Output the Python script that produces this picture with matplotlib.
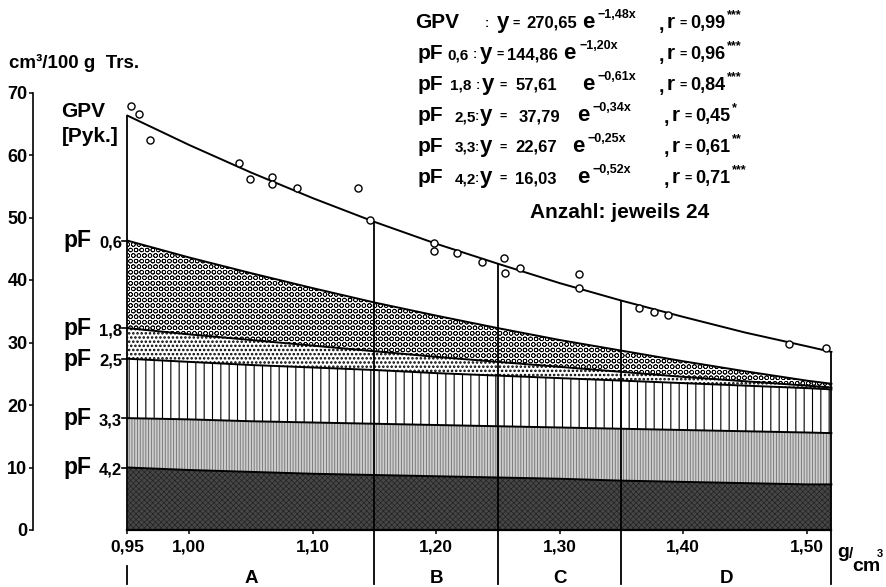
import numpy as np
import matplotlib.pyplot as plt

plt.rcParams['font.family'] = ['Liberation Sans', 'DejaVu Sans']
plt.rcParams['font.weight'] = 'bold'

dichte = [0.95, 1.00, 1.05, 1.10, 1.15, 1.20, 1.25, 1.30, 1.35, 1.40, 1.45, 1.50, 1.52]
gpv = [66.3, 61.6, 57.2, 53.1, 49.3, 45.8, 42.6, 39.5, 36.7, 34.1, 31.6, 29.4, 28.5]
pf06 = [46.3, 43.6, 41.1, 38.7, 36.4, 34.3, 32.3, 30.4, 28.7, 27.0, 25.4, 23.9, 23.4]
pf18 = [32.3, 31.3, 30.4, 29.5, 28.6, 27.7, 26.9, 26.1, 25.3, 24.5, 23.8, 23.1, 22.8]
pf25 = [27.4, 26.9, 26.4, 26.0, 25.6, 25.1, 24.7, 24.3, 23.9, 23.5, 23.1, 22.7, 22.5]
pf33 = [17.9, 17.7, 17.4, 17.2, 17.0, 16.8, 16.6, 16.4, 16.2, 16.0, 15.8, 15.6, 15.5]
pf42 = [10.0, 9.6, 9.3, 9.0, 8.8, 8.6, 8.4, 8.2, 7.9, 7.7, 7.5, 7.3, 7.3]

# GPV-Messpunkte (Pyknometer), 24 Proben
mess_x = [0.953, 0.959, 0.968, 1.040, 1.049, 1.067, 1.067, 1.087, 1.137, 1.146, 1.198, 1.198,
          1.217, 1.237, 1.255, 1.256, 1.268, 1.316, 1.316, 1.364, 1.376, 1.388, 1.486, 1.516]
mess_y = [67.8, 66.6, 62.4, 58.8, 56.2, 56.5, 55.4, 54.7, 54.7, 49.6, 45.9, 44.7,
          44.3, 42.9, 43.5, 41.2, 42.0, 40.9, 38.7, 35.5, 34.9, 34.4, 29.8, 29.2]

# Dichtebereiche A-D
grenzen = [0.95, 1.15, 1.25, 1.35, 1.52]
bereiche = ['A', 'B', 'C', 'D']

xticks = [0.95, 1.00, 1.10, 1.20, 1.30, 1.40, 1.50]
xlabels = ['0,95', '1,00', '1,10', '1,20', '1,30', '1,40', '1,50']

# Regressionsgleichungen
gl_name = ['GPV', 'pF', 'pF', 'pF', 'pF', 'pF']
gl_stufe = ['', '0,6', '1,8', '2,5', '3,3', '4,2']
gl_koeff = ['270,65', '144,86', '57,61', '37,79', '22,67', '16,03']
gl_expo = ['\u22121,48x', '\u22121,20x', '\u22120,61x', '\u22120,34x', '\u22120,25x', '\u22120,52x']
gl_r = ['0,99', '0,96', '0,84', '0,45', '0,61', '0,71']
gl_stern = ['***', '***', '***', '*', '**', '***']

# x-Positionen (Pixel) je Zeile: Stufe, Doppelpunkt, y, =, Koeff.-Ende, e, r
spalten = [(None, 485, 497, 513, 577, 582, 667),
           (447, 473, 480, 497, 558, 563, 667),
           (450, 476, 482, 500, 557, 582, 667),
           (455, 475, 480, 500, 560, 577, 672),
           (455, 475, 480, 500, 557, 572, 672),
           (455, 475, 480, 500, 557, 577, 672)]

W, H = 887, 587
fig = plt.figure(figsize=(W / 100, H / 100), dpi=100)
ax = fig.add_axes([33 / W, (H - 530) / H, 833 / W, 487.5 / H])
ax.set_xlim(0.8735, 1.548)
ax.set_ylim(0, 78)


def fill(unten, oben, fc, ec, hatch, hlw):
    with plt.rc_context({'hatch.linewidth': hlw}):
        coll = ax.fill_between(dichte, unten, oben, facecolor=fc, edgecolor=ec,
                               hatch=hatch, linewidth=0, zorder=1)
    if hasattr(coll, 'set_hatch_linewidth'):
        coll.set_hatch_linewidth(hlw)


fill(0, pf42, '#474747', '#222222', 'xxxxxx', 0.5)
fill(pf42, pf33, '#cdcdcd', '#707070', '||||||', 0.6)
fill(pf33, pf25, 'white', 'black', '||', 0.8)
fill(pf25, pf18, 'white', 'black', '....', 1.2)
fill(pf18, pf06, 'white', 'black', 'OOO', 0.5)

for kurve in [gpv, pf06, pf18, pf25, pf33, pf42]:
    ax.plot(dichte, kurve, color='black', lw=1.4, zorder=3)

# senkrechte Bereichsgrenzen
for g in grenzen:
    oben = np.interp(g, dichte, gpv)
    ax.plot([g, g], [0, oben], color='black', lw=1.3, zorder=3)
    unten = -5.8 if g == grenzen[0] else 0
    ax.plot([g, g], [-8.7, unten], color='black', lw=1.3, clip_on=False, zorder=3)

for i, b in enumerate(bereiche):
    mitte = (grenzen[i] + grenzen[i + 1]) / 2
    ax.text(mitte, -7.7, b, ha='center', va='center', fontsize=13.5, clip_on=False)

ax.scatter(mess_x, mess_y, s=26, facecolors='white', edgecolors='black',
           linewidths=1.0, zorder=5, clip_on=False)

# Achsen
for s in ['top', 'right']:
    ax.spines[s].set_visible(False)
ax.spines['left'].set_bounds(0, 70)
ax.spines['left'].set_linewidth(1.2)
ax.spines['bottom'].set_bounds(grenzen[0], grenzen[-1])
ax.spines['bottom'].set_linewidth(1.6)
ax.set_yticks(range(0, 71, 10))
ax.tick_params(axis='y', length=3, width=1.1, pad=1, labelsize=13)
ax.set_xticks(xticks)
ax.set_xticklabels(xlabels)
ax.tick_params(axis='x', length=3, width=1.1, pad=4, labelsize=12.5)

# Beschriftung der Kurven links
ax.text(0.896, 67.0, 'GPV', fontsize=15, va='center', ha='left')
ax.text(0.897, 63.0, '[Pyk.]', fontsize=15, va='center', ha='left')
for stufe, kurve in zip(gl_stufe[1:], [pf06, pf18, pf25, pf33, pf42]):
    y0 = kurve[0]
    ax.text(0.8985, y0 - 1.1, 'pF', fontsize=16.5, va='baseline', ha='left')
    ax.text(0.9456, y0 - 1.1, stufe, fontsize=12, va='baseline', ha='right')
    ax.plot([0.9456, 0.95], [y0, y0], color='black', lw=1.2, zorder=3)


def ftext(x, y, s, **kw):
    fig.text(x / W, 1 - y / H, s, **kw)


# Einheiten
ftext(9, 68, 'cm\u00b3/100 g  Trs.', fontsize=13.5, va='baseline')
ftext(837, 557, 'g', fontsize=14, va='baseline')
ftext(849, 558, '/', fontsize=11, va='baseline')
ftext(852, 571, 'cm', fontsize=14, va='baseline')
ftext(877, 557, '3', fontsize=8, va='baseline')

# Gleichungsblock
for i in range(6):
    yb = 28 + 31 * i
    xs, xdp, xy, xgl, xk, xe, xr = spalten[i]
    ftext(415 if i == 0 else 418, yb, gl_name[i], fontsize=15, va='baseline')
    if xs is not None:
        ftext(xs, yb, gl_stufe[i], fontsize=11, va='baseline')
    ftext(xdp, yb - 1, ':', fontsize=9, va='baseline')
    ftext(xy, yb, 'y', fontsize=16, va='baseline')
    ftext(xgl, yb - 1, '=', fontsize=9, va='baseline')
    ftext(xk, yb, gl_koeff[i], fontsize=12, va='baseline', ha='right')
    ftext(xe, yb, 'e', fontsize=16, va='baseline')
    ftext(xe + 16, yb - 10, gl_expo[i], fontsize=9, va='baseline')
    ftext(xr - 8, yb + 2, ',', fontsize=14, va='baseline')
    ftext(xr, yb, 'r', fontsize=15, va='baseline')
    ftext(xr + 13, yb - 1, '=', fontsize=9, va='baseline')
    ftext(xr + 23, yb, gl_r[i], fontsize=13, va='baseline')
    ftext(xr + 60, yb - 10, gl_stern[i], fontsize=9, va='baseline')
ftext(530, 218, 'Anzahl: jeweils 24', fontsize=15, va='baseline')

fig.savefig('out.png', dpi=100)
